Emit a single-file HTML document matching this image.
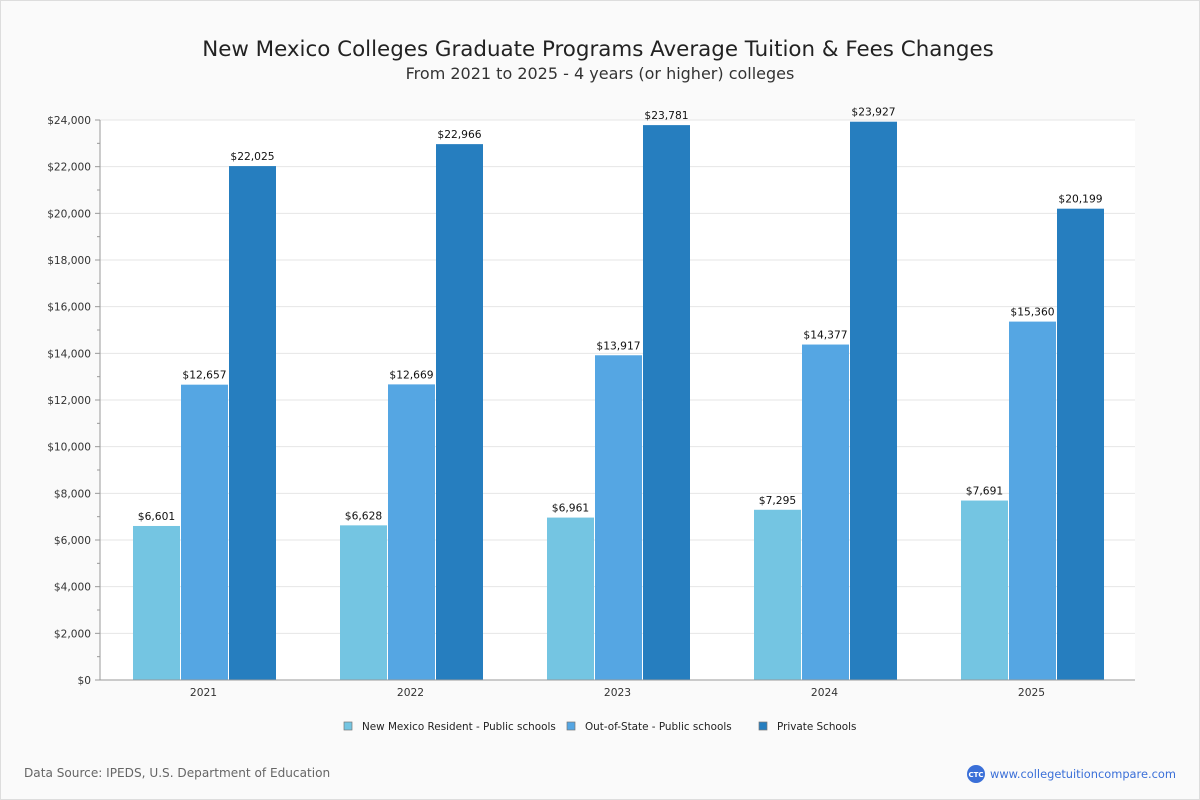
<!DOCTYPE html>
<html><head><meta charset="utf-8"><style>
html,body{margin:0;padding:0;background:#fff}
svg{display:block;font-family:"DejaVu Sans","Liberation Sans",sans-serif}
</style></head><body>
<svg id="chart" width="1200" height="800" viewBox="0 0 1200 800">
<rect x="0.5" y="0.5" width="1199" height="799" fill="#fafafa" stroke="#ddd"/>
<text x="598" y="56" text-anchor="middle" font-size="21.4" fill="#222">New Mexico Colleges Graduate Programs Average Tuition &amp; Fees Changes</text>
<text x="600" y="79" text-anchor="middle" font-size="16" fill="#333">From 2021 to 2025 - 4 years (or higher) colleges</text>
<rect x="100" y="120" width="1035" height="560" fill="#fff"/>
<g id="grid"></g><g id="bars"></g><g id="axes"></g>
<g>
<rect x="344" y="722" width="8" height="8" fill="#74c5e2" stroke="#777" stroke-width="0.7"/>
<text x="362" y="730" font-size="10.4" fill="#222">New Mexico Resident - Public schools</text>
<rect x="567" y="722" width="8" height="8" fill="#55a6e3" stroke="#777" stroke-width="0.7"/>
<text x="585" y="730" font-size="10.4" fill="#222">Out-of-State - Public schools</text>
<rect x="759" y="722" width="8" height="8" fill="#267ebf" stroke="#777" stroke-width="0.7"/>
<text x="777" y="730" font-size="10.4" fill="#222">Private Schools</text>
</g>
<text x="24" y="777" font-size="12.1" fill="#666">Data Source: IPEDS, U.S. Department of Education</text>
<circle cx="976" cy="774" r="9" fill="#3a6fd8"/>
<text x="976" y="777" text-anchor="middle" font-size="7" font-weight="bold" fill="#fff">CTC</text>
<text x="990" y="778" font-size="11.4" fill="#3a6fd8">www.collegetuitioncompare.com</text>
</svg>
<script>
const categories=["2021","2022","2023","2024","2025"];
const residentValues=[6601,6628,6961,7295,7691];
const outOfStateValues=[12657,12669,13917,14377,15360];
const privateValues=[22025,22966,23781,23927,20199];
const yTicks=[0,2000,4000,6000,8000,10000,12000,14000,16000,18000,20000,22000,24000];
const NS="http://www.w3.org/2000/svg";
const X0=100,X1=1135,Y0=680,Y1=120,YMAX=24000;
const y=v=>Y0-(v/YMAX)*(Y0-Y1);
const gw=(X1-X0)/categories.length;
const xc=i=>X0+gw*(i+0.5);
function mk(tag,attrs,parent,text){const e=document.createElementNS(NS,tag);for(const k in attrs)e.setAttribute(k,attrs[k]);if(text!==undefined)e.textContent=text;parent.appendChild(e);return e;}
const grid=document.getElementById('grid'),bars=document.getElementById('bars'),axes=document.getElementById('axes');
yTicks.forEach(t=>{
 const l=mk('line',{x1:X0,x2:X1,y1:y(t),y2:y(t),stroke:'#e6e6e6'},grid);
 
 
 const tx=mk('text',{x:X0-9,y:y(t)+4,'text-anchor':'end','font-size':10.6,fill:'#333'},axes,'$'+t.toLocaleString('en-US'));
 
 
 mk('line',{x1:X0-5,x2:X0,y1:y(t),y2:y(t),stroke:'#999'},axes);
 if(t<YMAX){mk('line',{x1:X0-3,x2:X0,y1:y(t+1000),y2:y(t+1000),stroke:'#999'},axes);}
});
const series=[[residentValues,'#74c5e2','resident'],[outOfStateValues,'#55a6e3','out-of-state'],[privateValues,'#267ebf','private']];
const bw=47;
categories.forEach((c,i)=>{
 series.forEach((s,j)=>{
  const v=s[0][i];const bx=xc(i)-70.5+j*48;
  const r=mk('rect',{x:bx,y:y(v),width:bw,height:Y0-y(v),fill:s[1]},bars);
  
  
  const t=mk('text',{x:bx+bw/2,y:y(v)-6,'text-anchor':'middle','font-size':10.7,fill:'#111'},bars,'$'+v.toLocaleString('en-US'));
  
  
 });
 const xl=mk('text',{x:xc(i),y:Y0+16,'text-anchor':'middle','font-size':10.7,fill:'#333'},axes,c);
 
 
});
const ya=mk('line',{x1:X0,x2:X0,y1:Y1,y2:Y0,stroke:'#999'},axes);


const xa=mk('line',{x1:X0,x2:X1,y1:Y0,y2:Y0,stroke:'#999'},axes);


</script>
</body></html>
